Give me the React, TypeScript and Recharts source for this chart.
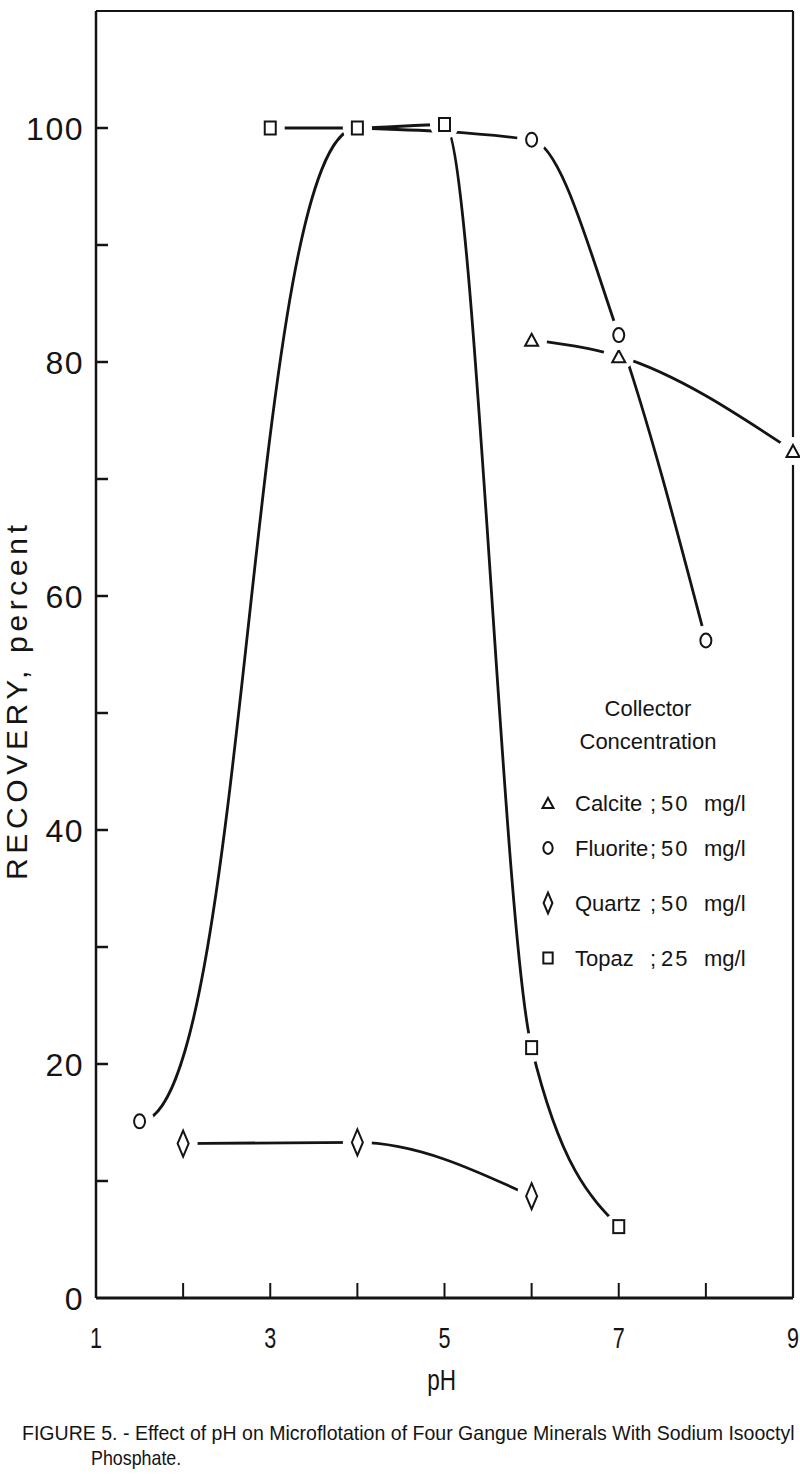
import React from 'react';
import { ComposedChart, Line, XAxis, YAxis, Legend } from 'recharts';

// pH ticks / labels
const phTicks = [1, 2, 3, 4, 5, 6, 7, 8, 9];
const phLabels = [1, 3, 5, 7, 9];
const recoveryTicks = [0, 10, 20, 30, 40, 50, 60, 70, 80, 90, 100];
const recoveryLabels = [0, 20, 40, 60, 80, 100];

// recovery (percent) vs pH
const calcite = [
    { ph: 6, recovery: 81.9 },
    { ph: 7, recovery: 80.5 },
    { ph: 9, recovery: 72.4 },
];
const fluorite = [
    { ph: 1.5, recovery: 15.1 },
    { ph: 4, recovery: 100 },
    { ph: 6, recovery: 99.0 },
    { ph: 7, recovery: 82.3 },
    { ph: 8, recovery: 56.2 },
];
const quartz = [
    { ph: 2, recovery: 13.2 },
    { ph: 4, recovery: 13.3 },
    { ph: 6, recovery: 8.7 },
];
const topaz = [
    { ph: 3, recovery: 100 },
    { ph: 4, recovery: 100 },
    { ph: 5, recovery: 100.3 },
    { ph: 6, recovery: 21.4 },
    { ph: 7, recovery: 6.1 },
];

const mineralNames = ['Calcite', 'Fluorite', 'Quartz', 'Topaz'];
const concentrations = ['50', '50', '50', '25'];

const INK = '#141414';
const FONT = "'Liberation Sans', Arial, sans-serif";

type Kind = 'triangle' | 'circle' | 'diamond' | 'square';
const markerKinds: Kind[] = ['triangle', 'circle', 'diamond', 'square'];

const sizes: Record<Kind, [number, number]> = {
    triangle: [13, 12],
    circle: [11, 14],
    diamond: [11, 26],
    square: [11, 13],
};

function Marker({ kind, cx, cy, k = 1, halo = false }: { kind: Kind; cx: number; cy: number; k?: number; halo?: boolean }) {
    const [w0, h0] = sizes[kind];
    const w = w0 * k;
    const h = h0 * k;
    const sw = 2;
    let shape: React.ReactNode = null;
    if (kind === 'square') {
        shape = <rect x={cx - w / 2} y={cy - h / 2} width={w} height={h} fill="#fff" stroke={INK} strokeWidth={sw} />;
    } else if (kind === 'circle') {
        shape = <ellipse cx={cx} cy={cy} rx={w / 2} ry={h / 2} fill="#fff" stroke={INK} strokeWidth={sw} />;
    } else if (kind === 'triangle') {
        shape = (
            <polygon
                points={`${cx},${cy - h / 2} ${cx + w / 2},${cy + h / 2} ${cx - w / 2},${cy + h / 2}`}
                fill="#fff"
                stroke={INK}
                strokeWidth={sw}
            />
        );
    } else {
        shape = (
            <polygon
                points={`${cx},${cy - h / 2} ${cx + w / 2},${cy} ${cx},${cy + h / 2} ${cx - w / 2},${cy}`}
                fill="#fff"
                stroke={INK}
                strokeWidth={sw}
            />
        );
    }
    return (
        <g>
            {halo && <ellipse cx={cx} cy={cy} rx={w / 2 + 9} ry={h / 2 + 8} fill="#fff" />}
            {shape}
        </g>
    );
}

// narrow lettering, as on the original drawing
function NarrowText({ x, y, size, sx = 0.78, anchor = 'start', children }: any) {
    return (
        <text
            transform={`translate(${x} ${y}) scale(${sx} 1)`}
            textAnchor={anchor}
            fontSize={size}
            fontFamily={FONT}
            fill={INK}
        >
            {children}
        </text>
    );
}

function LeftTick(props: any) {
    const { x, y, payload } = props;
    const v = payload.value;
    return (
        <g>
            {v > 0 && <line x1={x} y1={y} x2={x + 12} y2={y} stroke={INK} strokeWidth={2.5} />}
            {recoveryLabels.includes(v) && (
                <text
                    x={x - 12}
                    y={y}
                    dy="0.36em"
                    textAnchor="end"
                    fontSize={32}
                    letterSpacing={1.5}
                    fontFamily={FONT}
                    fill={INK}
                >
                    {v}
                </text>
            )}
        </g>
    );
}

function RightTick(props: any) {
    const { x, y, payload } = props;
    const v = payload.value;
    if (v <= 0) return <g />;
    return <line x1={x} y1={y} x2={x - 12} y2={y} stroke={INK} strokeWidth={2.2} />;
}

function BottomTick(props: any) {
    const { x, y, payload } = props;
    const v = payload.value;
    return (
        <g>
            {v > 1 && v < 9 && <line x1={x} y1={y} x2={x} y2={y - 15} stroke={INK} strokeWidth={2} />}
            {phLabels.includes(v) && (
                <NarrowText x={x} y={y + 50} size={30} sx={0.72} anchor="middle">
                    {v}
                </NarrowText>
            )}
        </g>
    );
}

function YLabel(props: any) {
    const vb = props.viewBox || { x: 0, y: 11, width: 96, height: 1287 };
    const cx = vb.x + 16;
    const cy = vb.y + vb.height / 2 + 48;
    return (
        <text
            x={cx}
            y={cy}
            transform={`rotate(-90 ${cx} ${cy})`}
            textAnchor="middle"
            dy="0.36em"
            fontSize={30}
            fontFamily={FONT}
            fill={INK}
            textLength={355}
            lengthAdjust="spacing"
        >
            RECOVERY, percent
        </text>
    );
}

function XLabel(props: any) {
    const vb = props.viewBox || { x: 96, y: 1298, width: 697, height: 102 };
    return (
        <NarrowText x={vb.x + vb.width / 2 - 3} y={vb.y + 92} size={30} sx={0.75} anchor="middle">
            pH
        </NarrowText>
    );
}

function LegendBox(props: any) {
    const payload = (props.payload || []).filter((p: any) => mineralNames.includes(p.value));
    const rowsY = [123, 168, 223, 278];
    return (
        <svg width={260} height={300} style={{ overflow: 'visible' }}>
            <text x={128} y={36} textAnchor="middle" fontSize={22} fontFamily={FONT} fill={INK}>
                Collector
            </text>
            <text x={128} y={69} textAnchor="middle" fontSize={22} fontFamily={FONT} fill={INK}>
                Concentration
            </text>
            {payload.map((p: any) => {
                const i = mineralNames.indexOf(p.value);
                const cy = rowsY[i];
                return (
                    <g key={p.value}>
                        <Marker kind={markerKinds[i]} cx={28} cy={cy} k={i === 2 ? 0.8 : 0.85} />
                        <text y={cy} dy="0.36em" fontSize={22} fontFamily={FONT} fill={INK}>
                            <tspan x={55}>{p.value}</tspan>
                            <tspan x={130}>;</tspan>
                            <tspan x={141} letterSpacing={2}>{concentrations[i]}</tspan>
                            <tspan x={184}>mg/l</tspan>
                        </text>
                    </g>
                );
            })}
        </svg>
    );
}

const series = [
    { name: 'Calcite', data: calcite, kind: 'triangle' as Kind },
    { name: 'Fluorite', data: fluorite, kind: 'circle' as Kind },
    { name: 'Quartz', data: quartz, kind: 'diamond' as Kind },
    { name: 'Topaz', data: topaz, kind: 'square' as Kind },
];

const curveProps = {
    dataKey: 'recovery',
    stroke: INK,
    strokeWidth: 2.8,
    dot: false,
    activeDot: false,
    legendType: 'none' as const,
    isAnimationActive: false,
};

export default function App() {
    return (
        <div style={{ width: 800, background: '#fff' }}>
            <style>{'body{margin:0;background:#fff}'}</style>
            <ComposedChart width={800} height={1400} margin={{ top: 0, right: 0, bottom: 0, left: 0 }}>
                <XAxis
                    xAxisId="top"
                    orientation="top"
                    type="number"
                    domain={[1, 9]}
                    height={11}
                    tick={false}
                    tickLine={false}
                    axisLine={{ stroke: INK, strokeWidth: 2.2 }}
                />
                <XAxis
                    dataKey="ph"
                    type="number"
                    domain={[1, 9]}
                    ticks={phTicks}
                    interval={0}
                    height={102}
                    tickSize={0}
                    tickMargin={0}
                    tickLine={false}
                    tick={<BottomTick />}
                    axisLine={{ stroke: INK, strokeWidth: 3 }}
                    label={XLabel}
                />
                <YAxis
                    dataKey="recovery"
                    type="number"
                    domain={[0, 110]}
                    ticks={recoveryTicks}
                    interval={0}
                    width={96}
                    tickSize={0}
                    tickMargin={0}
                    tickLine={false}
                    tick={<LeftTick />}
                    axisLine={{ stroke: INK, strokeWidth: 2.5 }}
                    label={YLabel}
                />
                <YAxis
                    yAxisId="right"
                    orientation="right"
                    type="number"
                    domain={[0, 110]}
                    ticks={recoveryTicks}
                    interval={0}
                    width={7}
                    tickSize={0}
                    tickMargin={0}
                    tickLine={false}
                    tick={<RightTick />}
                    axisLine={{ stroke: INK, strokeWidth: 2.2 }}
                />
                <Legend
                    layout="vertical"
                    align="center"
                    verticalAlign="middle"
                    wrapperStyle={{ left: 520, top: 680, width: 260, height: 300 }}
                    content={<LegendBox />}
                />

                {/* fluorite's rise from pH 1.5 is drawn as an S-shaped segment */}
                <Line {...curveProps} data={fluorite.slice(0, 2)} type="bumpX" />
                <Line {...curveProps} data={fluorite.slice(1)} type="monotone" />
                <Line {...curveProps} data={calcite} type="monotone" />
                <Line {...curveProps} data={quartz} type="monotone" />
                <Line {...curveProps} data={topaz} type="monotone" />

                {/* markers last, with a white halo that leaves the small gap of the hand-drawn curves */}
                {series.map((s) => (
                    <Line
                        key={s.name}
                        name={s.name}
                        data={s.data}
                        dataKey="recovery"
                        stroke="none"
                        activeDot={false}
                        isAnimationActive={false}
                        dot={(p: any) => <Marker key={`${s.name}-${p.index}`} kind={s.kind} cx={p.cx} cy={p.cy} halo />}
                    />
                ))}
            </ComposedChart>
            <svg width={800} height={82} style={{ display: 'block' }}>
                <text
                    transform="translate(22 40) scale(0.85 1)"
                    fontSize={21}
                    fontFamily={FONT}
                    fill={INK}
                    textLength={909}
                    lengthAdjust="spacingAndGlyphs"
                >
                    FIGURE 5. - Effect of pH on Microflotation of Four Gangue Minerals With Sodium Isooctyl
                </text>
                <NarrowText x={91} y={65} size={21} sx={0.85}>
                    Phosphate.
                </NarrowText>
            </svg>
        </div>
    );
}
